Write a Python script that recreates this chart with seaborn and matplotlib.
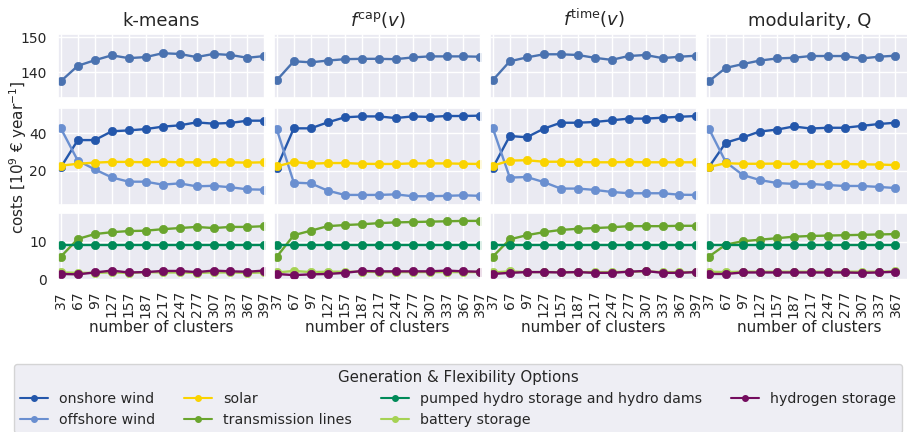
import matplotlib
matplotlib.use("Agg")
import matplotlib.pyplot as plt
import seaborn as sns
import pandas as pd
from matplotlib.lines import Line2D

clusters = [37, 67, 97, 127, 157, 187, 217, 247, 277, 307, 337, 367, 397]
methods = ["k-means", r"$f^{\mathrm{cap}}(v)$", r"$f^{\mathrm{time}}(v)$", "modularity, Q"]

total = {
    "k-means": [137.4, 141.8, 143.4, 144.8, 144.0, 144.3, 145.4, 145.2, 144.3, 145.2, 144.9, 144.1, 144.6],
    "cap": [137.7, 143.1, 142.8, 143.3, 143.7, 143.8, 143.8, 143.7, 144.2, 144.5, 144.5, 144.5, 144.4],
    "time": [137.7, 143.1, 144.2, 145.1, 145.1, 144.9, 144.1, 143.5, 144.6, 144.9, 144.0, 144.4, 144.7],
    "mod": [137.4, 141.2, 142.3, 143.3, 143.9, 144.1, 144.6, 144.6, 144.6, 143.9, 144.4, 144.7],
}
onshore = {
    "k-means": [21.8, 36.4, 36.4, 41.1, 41.6, 42.3, 43.6, 44.3, 45.9, 45.2, 45.6, 46.8, 46.8],
    "cap": [21.6, 42.7, 42.7, 45.9, 48.6, 49.1, 49.1, 48.2, 49.1, 48.8, 49.3, 49.3, 49.5],
    "time": [21.6, 38.6, 37.9, 42.5, 45.7, 45.7, 46.1, 47.0, 47.9, 47.9, 48.4, 48.9, 49.3],
    "mod": [21.9, 35.0, 37.8, 41.0, 42.0, 43.7, 42.6, 43.0, 43.0, 44.0, 45.0, 45.7],
}
offshore = {
    "k-means": [42.7, 25.4, 20.7, 16.4, 14.1, 14.1, 12.5, 13.2, 11.6, 11.9, 11.1, 10.0, 9.8],
    "cap": [42.1, 13.6, 13.2, 9.3, 7.0, 7.0, 7.0, 7.3, 6.3, 6.3, 6.5, 6.8, 6.5],
    "time": [42.7, 16.3, 16.6, 13.9, 10.4, 10.4, 9.7, 8.6, 7.9, 7.9, 7.9, 7.1, 7.0],
    "mod": [42.6, 24.6, 17.7, 15.0, 13.4, 12.9, 12.9, 12.3, 11.8, 11.8, 11.3, 10.7],
}
solar = {
    "k-means": [22.7, 23.7, 24.3, 24.7, 24.7, 24.5, 24.8, 24.5, 24.5, 24.5, 24.5, 24.3, 24.5],
    "cap": [22.3, 24.7, 23.7, 24.1, 24.1, 23.7, 23.6, 23.6, 23.9, 23.9, 23.9, 23.7, 23.6],
    "time": [22.7, 25.4, 25.6, 24.8, 24.8, 24.7, 24.5, 24.5, 24.7, 24.5, 24.5, 24.5, 24.5],
    "mod": [22.0, 24.0, 23.7, 23.7, 23.8, 23.6, 23.5, 23.6, 23.6, 23.4, 23.3, 23.0],
}
transmission = {
    "k-means": [6.0, 10.7, 12.0, 12.5, 12.8, 12.9, 13.3, 13.6, 13.9, 13.6, 13.9, 13.9, 14.1],
    "cap": [6.0, 11.7, 12.9, 14.1, 14.4, 14.6, 14.9, 15.1, 15.2, 15.3, 15.4, 15.5, 15.5],
    "time": [6.0, 10.6, 11.7, 12.5, 13.1, 13.4, 13.6, 13.8, 14.1, 14.1, 14.1, 14.2, 14.2],
    "mod": [6.0, 9.2, 10.1, 10.5, 10.9, 11.3, 11.5, 11.6, 11.7, 11.8, 11.9, 12.0],
}
hydro = {
    "k-means": [9.1] * 13,
    "cap": [9.1] * 13,
    "time": [9.0] * 13,
    "mod": [9.0] * 12,
}
battery = {
    "k-means": [1.8, 1.7, 1.7, 1.8, 1.7, 1.9, 1.8, 1.8, 1.7, 1.8, 1.8, 1.7, 1.8],
    "cap": [1.8, 2.2, 1.9, 2.0, 2.0, 2.0, 1.9, 1.9, 1.9, 1.9, 1.9, 1.9, 1.9],
    "time": [1.8, 2.1, 1.9, 1.9, 1.9, 1.9, 1.9, 1.9, 2.0, 2.1, 1.9, 1.9, 1.9],
    "mod": [2.0, 1.9, 2.0, 2.0, 2.0, 2.0, 2.0, 2.0, 2.0, 2.0, 2.0, 2.1],
}
hydrogen = {
    "k-means": [1.4, 1.3, 1.8, 2.3, 1.8, 1.9, 2.2, 2.2, 1.9, 2.3, 2.1, 2.0, 2.3],
    "cap": [1.4, 1.1, 1.3, 1.4, 1.7, 2.2, 2.1, 2.1, 2.1, 2.1, 2.3, 2.1, 2.0],
    "time": [1.4, 1.7, 1.9, 1.9, 1.8, 1.9, 1.7, 1.7, 2.0, 2.2, 1.7, 1.7, 1.9],
    "mod": [1.4, 1.4, 1.8, 1.8, 1.8, 1.8, 1.8, 1.8, 1.8, 1.7, 1.8, 2.0],
}

labels = ["onshore wind", "offshore wind", "solar", "transmission lines",
          "pumped hydro storage and hydro dams", "battery storage", "hydrogen storage"]
colors = {
    "onshore wind": "#2457ab",
    "offshore wind": "#6a8fd0",
    "solar": "#fad300",
    "transmission lines": "#6aa52e",
    "pumped hydro storage and hydro dams": "#008a58",
    "battery storage": "#a6d254",
    "hydrogen storage": "#740c5e",
}
total_color = "#4a72b0"

sns.set_theme(style="darkgrid")
plt.rcParams["font.family"] = ["DejaVu Sans"]

W, H = 907, 432
fig = plt.figure(figsize=(W / 100, H / 100), dpi=100)

col_left = [58, 274, 490, 706]
col_w = 207
rows = [(34, 98), (108, 205), (213, 280)]
ylims = [(132.6, 150.9), (1.6, 53.6), (-0.2, 17.6)]
yticks = [[140, 150], [20, 40], [0, 10]]

keys = ["k-means", "cap", "time", "mod"]
row_series = [
    [("total", total, total_color)],
    [("onshore wind", onshore, colors["onshore wind"]),
     ("offshore wind", offshore, colors["offshore wind"]),
     ("solar", solar, colors["solar"])],
    [("transmission lines", transmission, colors["transmission lines"]),
     ("pumped hydro storage and hydro dams", hydro, colors["pumped hydro storage and hydro dams"]),
     ("battery storage", battery, colors["battery storage"]),
     ("hydrogen storage", hydrogen, colors["hydrogen storage"])],
]

for ci, key in enumerate(keys):
    ticks = clusters if key != "mod" else clusters[:12]
    for ri, (top, bot) in enumerate(rows):
        ax = fig.add_axes([col_left[ci] / W, 1 - bot / H, col_w / W, (bot - top) / H])
        for name, data, col in row_series[ri]:
            vals = data[key]
            df = pd.DataFrame({"x": clusters[:len(vals)], "y": vals})
            sns.lineplot(data=df, x="x", y="y", ax=ax, color=col, marker="o",
                         markersize=6, linewidth=1.7, markeredgecolor=col,
                         markeredgewidth=0.5)
        ax.set_xlim(32, 398)
        ax.set_ylim(*ylims[ri])
        ax.set_xticks(ticks)
        ax.set_yticks(yticks[ri])
        ax.set_ylabel("")
        ax.tick_params(axis="both", labelsize=10, pad=2)
        if ri == 2:
            ax.set_xticklabels([str(c) for c in ticks], rotation=90)
            ax.set_xlabel("number of clusters", fontsize=11, labelpad=2)
        else:
            ax.set_xticklabels([])
            ax.set_xlabel("")
        if ci != 0:
            ax.set_yticklabels([])
        if ri == 0:
            ax.set_title(methods[ci], fontsize=13, pad=6)

fig.text(18 / W, 1 - 157 / H, r"costs [$10^9$ € year$^{-1}$]", rotation=90,
         ha="center", va="center", fontsize=11)

handles = [Line2D([0], [0], color=colors[l], marker="o", markersize=4, linewidth=1.5)
           for l in labels]
fig.legend(handles, labels, loc="upper left", bbox_to_anchor=(14 / W, 1 - 364 / H),
           ncol=4, title="Generation & Flexibility Options", fontsize=10.2,
           title_fontsize=10.8, borderaxespad=0, frameon=True)

fig.savefig("out.png", dpi=100)
